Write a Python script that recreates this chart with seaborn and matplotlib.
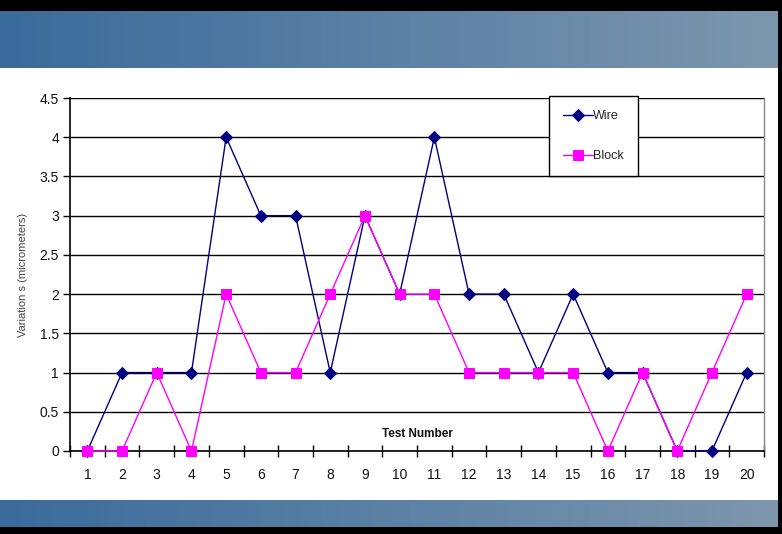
import numpy as np
import matplotlib
matplotlib.use("Agg")
import matplotlib.pyplot as plt
import seaborn as sns
import pandas as pd

# chart data
tests = list(range(1, 21))
wire = [0, 1, 1, 1, 4, 3, 3, 1, 3, 2, 4, 2, 2, 1, 2, 1, 1, 0, 0, 1]
block = [0, 0, 1, 0, 2, 1, 1, 2, 3, 2, 2, 1, 1, 1, 1, 0, 1, 0, 1, 2]
y_ticks = [0, 0.5, 1, 1.5, 2, 2.5, 3, 3.5, 4, 4.5]

sns.set_theme(style="white")
plt.rcParams['font.family'] = ['Liberation Sans', 'DejaVu Sans']

W, H = 782, 534
fig = plt.figure(figsize=(W / 100, H / 100), dpi=100, facecolor="black")

def band(y0, y1):
    # blue gradient banner across the slide
    bax = fig.add_axes([0, 1 - y1 / H, 778 / W, (y1 - y0) / H])
    grad = np.linspace(0, 1, 256)[None, :, None]
    left = np.array([0.23, 0.42, 0.61])
    right = np.array([0.49, 0.59, 0.68])
    img = left + (right - left) * grad
    bax.imshow(img, aspect="auto", extent=[0, 1, 0, 1])
    bax.set_axis_off()

band(11, 68)
band(500, 527)

# white slide panel
panel = fig.add_axes([0, 1 - 500 / H, 778 / W, (500 - 68) / H])
panel.set_facecolor("white")
panel.set_xticks([])
panel.set_yticks([])
for s in panel.spines.values():
    s.set_visible(False)

ax = fig.add_axes([70 / W, 1 - 451 / H, (764 - 70) / W, (451 - 98) / H])
ax.set_facecolor("white")

df = pd.DataFrame({"test": tests + tests,
                   "value": wire + block,
                   "series": ["Wire"] * 20 + ["Block"] * 20})

sns.lineplot(data=df[df.series == "Wire"], x="test", y="value", ax=ax,
             color="#000080", marker="D", markersize=6, markeredgecolor="#000080",
             linewidth=1.0, label="Wire", zorder=3, clip_on=False)
sns.lineplot(data=df[df.series == "Block"], x="test", y="value", ax=ax,
             color="#ff00ff", marker="s", markersize=7, markeredgecolor="#ff00ff",
             linewidth=1.0, label="Block", zorder=4, clip_on=False)

ax.set_xlim(0.5, 20.5)
ax.set_ylim(0, 4.5)
ax.set_yticks(y_ticks)
ax.set_yticklabels([f"{v:g}" for v in y_ticks])
ax.set_xticks(tests)
ax.set_xticklabels([str(t) for t in tests])
ax.set_xticks(np.arange(0.5, 21, 1), minor=True)
ax.tick_params(axis="x", which="major", length=0, labelsize=10, pad=12, colors="#111111")
ax.tick_params(axis="x", which="minor", length=8, width=1, direction="inout", color="black", bottom=True)
ax.tick_params(axis="y", which="major", length=5, width=1, direction="out", color="black",
               left=True, labelsize=10, pad=3, labelcolor="#111111")

ax.grid(axis="y", color="black", linewidth=1.0)
ax.set_axisbelow(True)
ax.spines["left"].set_color("black")
ax.spines["left"].set_linewidth(1.2)
ax.spines["bottom"].set_color("black")
ax.spines["bottom"].set_linewidth(1.2)
ax.spines["top"].set_visible(False)
ax.spines["right"].set_color("#888888")
ax.spines["right"].set_linewidth(1.0)

ax.set_xlabel("")
ax.set_ylabel("Variation s (micrometers)", fontsize=8, color="#444444", labelpad=8)
ax.text(10.5, 0.22, "Test Number", fontsize=8.5, ha="center", va="center",
        color="#111111", fontweight="semibold")

leg = ax.legend(loc="upper left", bbox_to_anchor=((549 - 70) / (764 - 70), 1.005),
                frameon=True, fancybox=False, fontsize=9, handlelength=2.4,
                labelspacing=2.25, borderpad=1.1, handletextpad=0.05, borderaxespad=0)
leg.get_frame().set_edgecolor("black")
leg.get_frame().set_linewidth(1.0)
leg.get_frame().set_facecolor("white")
leg.get_frame().set_alpha(1)
for t in leg.get_texts():
    t.set_color("#222222")

fig.savefig("out.png", dpi=100, facecolor="black")
